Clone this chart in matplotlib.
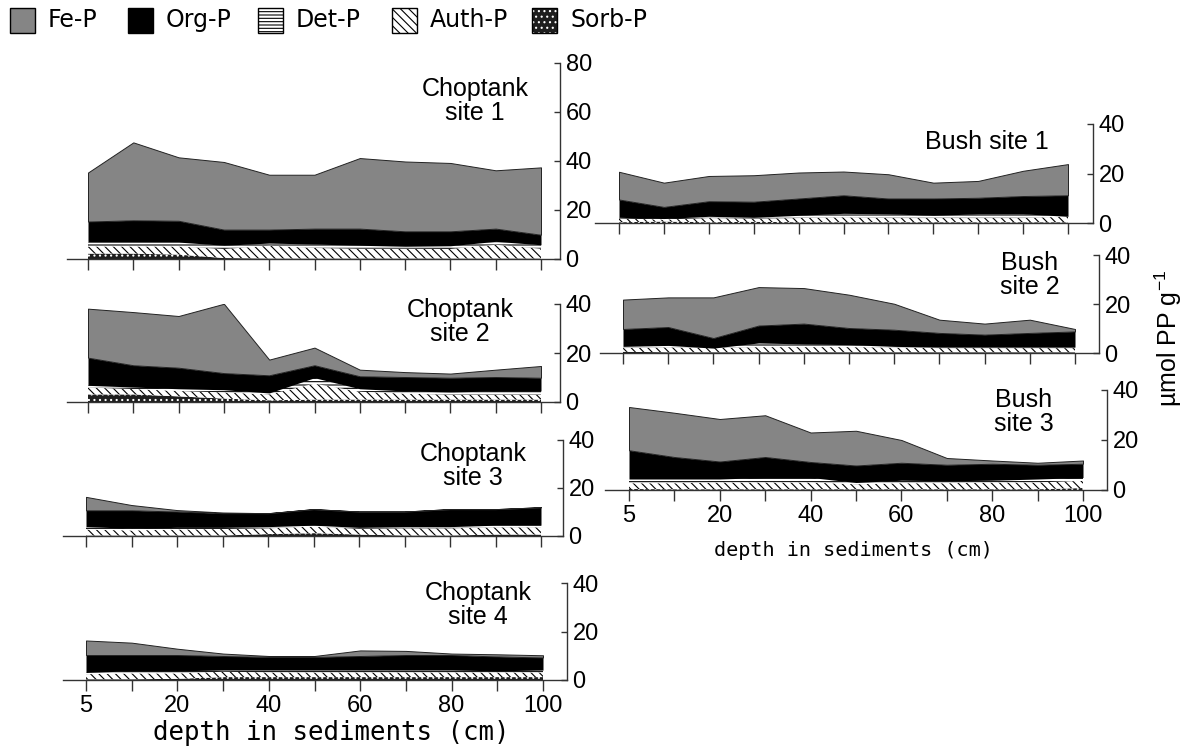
import matplotlib
matplotlib.use("Agg")
import matplotlib.pyplot as plt
from matplotlib.patches import Rectangle
import numpy as np

plt.rcParams["font.family"] = ["Liberation Sans", "DejaVu Sans"]
plt.rcParams["hatch.linewidth"] = 0.8

W, H = 1191, 755

# sampling depths (cm), drawn evenly spaced
depths = [5, 10, 20, 30, 40, 50, 60, 70, 80, 90, 100]
labeled_depths = [5, 20, 40, 60, 80, 100]

fractions = ["Sorb-P", "Auth-P", "Det-P", "Org-P", "Fe-P"]
legend_order = ["Fe-P", "Org-P", "Det-P", "Auth-P", "Sorb-P"]

# umol PP per g for each fraction, by depth
choptank1 = {
    "Sorb-P": [2.2, 2.2, 1.8, 0.4, 0.2, 0.2, 0.2, 0.2, 0.2, 0.2, 0.2],
    "Auth-P": [2.9, 2.9, 3.3, 3.7, 5.2, 4.3, 4.0, 4.0, 3.9, 5.6, 4.0],
    "Det-P": [1.8, 1.8, 1.8, 1.5, 1.1, 1.6, 1.4, 1.0, 1.3, 1.4, 1.6],
    "Org-P": [8.4, 8.9, 8.7, 6.4, 5.5, 6.3, 6.8, 6.1, 5.9, 5.2, 4.1],
    "Fe-P": [20.0, 31.8, 25.9, 27.6, 22.4, 22.0, 28.8, 28.5, 27.9, 23.8, 27.5],
}
choptank2 = {
    "Sorb-P": [3.1, 3.1, 2.3, 1.4, 0.7, 1.0, 1.0, 1.0, 1.0, 1.0, 1.0],
    "Auth-P": [2.8, 2.2, 2.2, 2.5, 2.4, 6.5, 3.2, 2.4, 2.0, 2.0, 2.0],
    "Det-P": [0.9, 0.8, 0.9, 1.1, 0.6, 2.4, 1.2, 1.1, 1.1, 1.5, 1.5],
    "Org-P": [11.3, 8.9, 8.6, 6.8, 7.2, 5.1, 5.1, 5.7, 5.8, 5.7, 5.4],
    "Fe-P": [20.0, 21.7, 21.1, 28.3, 6.4, 7.2, 2.7, 2.0, 1.7, 3.0, 4.8],
}
choptank3 = {
    "Sorb-P": [0.2, 0.2, 0.2, 0.2, 0.8, 1.2, 0.6, 0.2, 0.2, 0.6, 0.6],
    "Auth-P": [2.5, 2.1, 2.5, 2.7, 2.4, 2.7, 2.4, 3.0, 3.0, 3.0, 3.0],
    "Det-P": [1.2, 0.9, 0.9, 0.7, 0.7, 0.6, 0.6, 0.7, 0.7, 0.9, 0.9],
    "Org-P": [6.8, 7.5, 6.6, 5.9, 5.6, 6.7, 6.6, 6.3, 7.3, 6.7, 7.5],
    "Fe-P": [5.6, 2.2, 0.6, 0.3, 0.0, 0.0, 0.0, 0.0, 0.0, 0.0, 0.0],
}
choptank4 = {
    "Sorb-P": [0.3, 0.3, 0.5, 1.2, 1.2, 1.2, 1.2, 1.2, 1.2, 1.2, 1.2],
    "Auth-P": [2.1, 2.4, 2.2, 2.2, 1.9, 1.9, 1.9, 1.9, 1.9, 1.9, 1.9],
    "Det-P": [0.7, 1.1, 1.1, 0.7, 1.0, 1.0, 1.0, 1.0, 1.0, 0.7, 1.0],
    "Org-P": [7.2, 6.5, 6.5, 5.8, 5.4, 5.4, 5.8, 6.2, 6.2, 5.9, 5.2],
    "Fe-P": [6.0, 5.1, 2.6, 1.0, 0.4, 0.4, 2.3, 1.7, 0.6, 0.9, 0.9],
}
bush1 = {
    "Sorb-P": [0.3, 0.6, 0.3, 0.5, 0.3, 0.3, 0.3, 0.3, 0.3, 0.3, 0.3],
    "Auth-P": [1.5, 0.8, 1.7, 1.3, 1.7, 2.0, 1.7, 1.7, 1.7, 1.7, 2.3],
    "Det-P": [0.5, 0.4, 0.7, 0.5, 1.1, 1.6, 1.7, 1.1, 1.7, 1.7, 0.1],
    "Org-P": [7.2, 4.7, 6.1, 6.3, 6.8, 7.3, 6.2, 6.8, 6.5, 7.2, 8.5],
    "Fe-P": [11.2, 9.8, 10.2, 10.7, 10.5, 9.6, 9.8, 6.4, 6.8, 10.2, 12.6],
}
bush2 = {
    "Sorb-P": [0.5, 0.3, 0.3, 0.3, 0.3, 0.3, 0.3, 0.3, 0.3, 0.3, 0.3],
    "Auth-P": [1.5, 2.0, 1.7, 2.1, 2.1, 2.1, 1.9, 1.7, 1.7, 1.7, 1.7],
    "Det-P": [0.7, 0.8, 0.0, 1.7, 1.3, 1.0, 0.5, 0.4, 0.4, 0.4, 0.4],
    "Org-P": [7.1, 7.5, 4.1, 7.1, 8.3, 6.8, 6.8, 5.8, 5.1, 5.8, 6.4],
    "Fe-P": [12.0, 12.1, 16.6, 15.7, 14.5, 13.6, 10.6, 5.4, 4.5, 5.4, 1.0],
}
bush3 = {
    "Sorb-P": [0.4, 0.3, 0.3, 0.3, 0.3, 0.3, 0.3, 0.3, 0.3, 0.3, 0.8],
    "Auth-P": [2.3, 2.4, 2.7, 2.7, 2.7, 2.0, 2.4, 2.4, 2.7, 2.7, 2.9],
    "Det-P": [1.7, 1.7, 1.4, 2.0, 2.0, 0.7, 1.2, 1.0, 0.9, 1.4, 1.3],
    "Org-P": [11.5, 8.8, 7.0, 8.2, 6.2, 6.8, 7.0, 6.4, 6.6, 5.7, 5.5],
    "Fe-P": [17.3, 17.7, 17.0, 16.7, 11.8, 13.9, 9.1, 2.7, 1.3, 0.8, 1.3],
}

styles = {
    "Fe-P": dict(facecolor="#858585", hatch=None, edgecolor="#222222", linewidth=0.7),
    "Org-P": dict(facecolor="black", hatch=None, edgecolor="black", linewidth=0),
    "Det-P": dict(facecolor="white", hatch="-----", edgecolor="black", linewidth=0),
    "Auth-P": dict(facecolor="white", hatch="\\\\\\\\", edgecolor="black", linewidth=0),
    "Sorb-P": dict(facecolor="#1e1e1e", hatch="...", edgecolor="white", linewidth=0),
}


def fx(px):
    return px / W


def fy(py):
    return 1 - py / H


fig = plt.figure(figsize=(W / 100, H / 100), dpi=100)


def panel(site, left, right, base, top, ymax, d0, d10, tick_labels=False):
    ax = fig.add_axes([fx(left), fy(base), (right - left) / W, (base - top) / H])
    ax.patch.set_visible(False)
    step = (d10 - d0) / (len(depths) - 1)
    ax.set_xlim((left - d0) / step, len(depths) - 1 + (right - d10) / step)
    ax.set_ylim(0, ymax)

    x = np.arange(len(depths))
    lower = np.zeros(len(depths))
    for name in fractions:
        upper = lower + np.array(site[name])
        ax.fill_between(x, lower, upper, **styles[name])
        lower = upper

    for side in ("top", "left"):
        ax.spines[side].set_visible(False)
    for side in ("right", "bottom"):
        ax.spines[side].set_linewidth(1.0)
        ax.spines[side].set_color("#333333")

    ax.yaxis.tick_right()
    ax.set_yticks(np.arange(0, ymax + 1, 20))
    ax.tick_params(axis="y", direction="in", length=4, width=1, labelsize=17,
                   pad=4, colors="#333333", labelcolor="black")
    ax.set_xticks(x)
    ax.tick_params(axis="x", direction="out", length=8, width=1, labelsize=17,
                   pad=3, colors="#333333", labelcolor="black")
    if tick_labels:
        ax.set_xticklabels([str(d) if d in labeled_depths else "" for d in depths])
    else:
        ax.tick_params(axis="x", labelbottom=False)
    return ax


panel(choptank1, 67, 560, 259, 63, 80, 88, 541)
panel(choptank2, 67, 560, 402, 304, 40, 88, 541)
panel(choptank3, 63, 563, 536, 440, 40, 86, 541)
panel(choptank4, 63, 567, 680, 583, 40, 86, 543, tick_labels=True)
panel(bush1, 595, 1093, 223, 124, 40, 619, 1068)
panel(bush2, 600, 1099, 353, 255, 40, 623, 1075)
panel(bush3, 605, 1107, 490, 390, 40, 629, 1083, tick_labels=True)

# site names
title_kw = dict(ha="center", va="center", fontsize=18, linespacing=1.0)
fig.text(fx(475), fy(101), "Choptank\nsite 1", **title_kw)
fig.text(fx(460), fy(322), "Choptank\nsite 2", **title_kw)
fig.text(fx(473), fy(466), "Choptank\nsite 3", **title_kw)
fig.text(fx(478), fy(605), "Choptank\nsite 4", **title_kw)
fig.text(fx(987), fy(142), "Bush site 1", **title_kw)
fig.text(fx(1030), fy(275), "Bush\nsite 2", **title_kw)
fig.text(fx(1024), fy(412), "Bush\nsite 3", **title_kw)

# axis titles
fig.text(fx(331), fy(733), "depth in sediments (cm)", ha="center", va="center",
         fontsize=18.5, family="DejaVu Sans Mono")
fig.text(fx(853), fy(550), "depth in sediments (cm)", ha="center", va="center",
         fontsize=14.5, family="DejaVu Sans Mono")
fig.text(fx(1168), fy(338), r"µmol PP g$^{\mathregular{-1}}$", rotation=90,
         ha="center", va="center", fontsize=18)

# legend row: filled swatch plus a black outline, then the label
legend_x = [10, 128, 258, 392, 532]
for name, px in zip(legend_order, legend_x):
    st = styles[name]
    fig.patches.append(Rectangle((fx(px), fy(33)), 25 / W, 25 / H,
                                 transform=fig.transFigure, facecolor=st["facecolor"],
                                 hatch=st["hatch"], edgecolor=st["edgecolor"],
                                 linewidth=0))
    fig.patches.append(Rectangle((fx(px), fy(33)), 25 / W, 25 / H,
                                 transform=fig.transFigure, fill=False,
                                 edgecolor="black", linewidth=1))
    fig.text(fx(px + 38), fy(20), name, ha="left", va="center", fontsize=17,
             family="DejaVu Sans")

fig.savefig("out.png", dpi=100)
